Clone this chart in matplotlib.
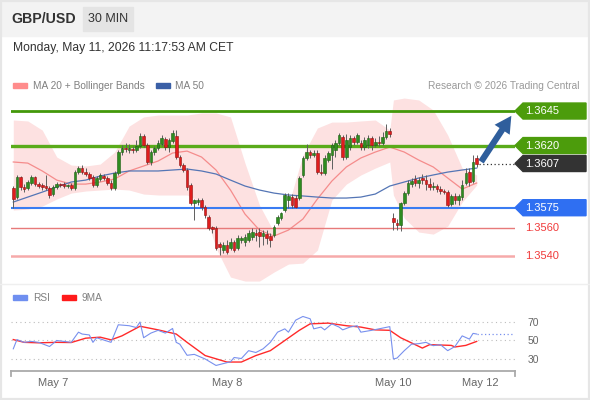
import numpy as np
import matplotlib.pyplot as plt
from matplotlib.patches import Rectangle, Polygon, FancyArrowPatch
from matplotlib.lines import Line2D
import matplotlib.transforms as mtransforms

plt.rcParams['font.family'] = ['Liberation Sans', 'DejaVu Sans']

W, H = 590, 400

# GBP/USD 30 min candles, May 7 -> May 11
c_open = [1.35892, 1.35827, 1.35972, 1.35900, 1.35892, 1.35929, 1.35972, 1.35921, 1.35914, 1.35907,
          1.35892, 1.35849, 1.35900, 1.35921, 1.35921, 1.35907, 1.35914, 1.35892, 1.36008, 1.36037,
          1.36008, 1.35994, 1.35972, 1.35914, 1.35958, 1.35979, 1.35965, 1.35929, 1.35892, 1.36001,
          1.36153, 1.36182, 1.36168, 1.36175, 1.36168, 1.36197, 1.36269, 1.36204, 1.36081, 1.36153,
          1.36182, 1.36211, 1.36247, 1.36189, 1.36233, 1.36269, 1.36117, 1.36059, 1.36023, 1.35914,
          1.35784, 1.35791, 1.35806, 1.35755, 1.35682, 1.35610, 1.35603, 1.35487, 1.35443, 1.35480,
          1.35458, 1.35501, 1.35458, 1.35516, 1.35501, 1.35516, 1.35538, 1.35567, 1.35574, 1.35545,
          1.35559, 1.35545, 1.35552, 1.35639, 1.35675, 1.35733, 1.35806, 1.35827, 1.35820, 1.35820,
          1.35987, 1.36110, 1.36153, 1.36131, 1.36146, 1.36008, 1.36001, 1.36095, 1.36131, 1.36168,
          1.36218, 1.36262, 1.36117, 1.36189, 1.36254, 1.36226, 1.36218, 1.36189, 1.36204, 1.36254,
          1.36204, 1.36226, 1.36218, 1.36262, 1.36305, 1.35675, 1.35639, 1.35625, 1.35784, 1.35856,
          1.35921, 1.35958, 1.35929, 1.35965, 1.35950, 1.35921, 1.35900, 1.35907, 1.35885, 1.35871,
          1.35863, 1.35777, 1.35835, 1.35806, 1.35827, 1.35929, 1.36008, 1.35943, 1.36110]
c_high = [1.35907, 1.35987, 1.35979, 1.35921, 1.35950, 1.35987, 1.35979, 1.35936, 1.35929, 1.35987,
          1.35907, 1.35914, 1.35936, 1.35929, 1.35936, 1.35921, 1.35929, 1.36023, 1.36052, 1.36059,
          1.36037, 1.36008, 1.35987, 1.35979, 1.36001, 1.35994, 1.35979, 1.35950, 1.36016, 1.36168,
          1.36204, 1.36218, 1.36211, 1.36197, 1.36240, 1.36291, 1.36283, 1.36218, 1.36168, 1.36197,
          1.36240, 1.36276, 1.36262, 1.36254, 1.36312, 1.36312, 1.36131, 1.36073, 1.36037, 1.35929,
          1.35813, 1.35820, 1.35820, 1.35769, 1.35697, 1.35617, 1.35617, 1.35501, 1.35501, 1.35516,
          1.35530, 1.35516, 1.35552, 1.35545, 1.35559, 1.35588, 1.35603, 1.35596, 1.35603, 1.35588,
          1.35588, 1.35567, 1.35625, 1.35697, 1.35719, 1.35856, 1.35856, 1.35849, 1.35842, 1.35979,
          1.36124, 1.36211, 1.36168, 1.36168, 1.36168, 1.36066, 1.36131, 1.36160, 1.36218, 1.36240,
          1.36291, 1.36276, 1.36283, 1.36276, 1.36269, 1.36291, 1.36240, 1.36262, 1.36276, 1.36269,
          1.36254, 1.36269, 1.36298, 1.36356, 1.36327, 1.35711, 1.35668, 1.35791, 1.35871, 1.35950,
          1.35965, 1.35987, 1.35972, 1.35994, 1.35987, 1.35965, 1.35936, 1.35921, 1.35907, 1.35885,
          1.35878, 1.35849, 1.35856, 1.35849, 1.35950, 1.36037, 1.36037, 1.36131, 1.36131]
c_low = [1.35748, 1.35813, 1.35878, 1.35863, 1.35878, 1.35914, 1.35907, 1.35892, 1.35878, 1.35878,
         1.35820, 1.35835, 1.35885, 1.35900, 1.35892, 1.35892, 1.35878, 1.35878, 1.35994, 1.35994,
         1.35979, 1.35950, 1.35900, 1.35900, 1.35943, 1.35950, 1.35914, 1.35878, 1.35878, 1.35987,
         1.36131, 1.36153, 1.36146, 1.36146, 1.36153, 1.36182, 1.36189, 1.36066, 1.36059, 1.36131,
         1.36168, 1.36197, 1.36168, 1.36153, 1.36218, 1.36102, 1.36045, 1.36008, 1.35878, 1.35769,
         1.35661, 1.35769, 1.35733, 1.35675, 1.35588, 1.35567, 1.35443, 1.35407, 1.35422, 1.35415,
         1.35443, 1.35429, 1.35443, 1.35494, 1.35472, 1.35501, 1.35516, 1.35509, 1.35465, 1.35480,
         1.35487, 1.35465, 1.35538, 1.35625, 1.35661, 1.35719, 1.35748, 1.35748, 1.35748, 1.35806,
         1.35972, 1.36095, 1.36110, 1.36117, 1.35994, 1.35987, 1.35987, 1.36081, 1.36030, 1.36117,
         1.36204, 1.36095, 1.36102, 1.36168, 1.36204, 1.36211, 1.36168, 1.36168, 1.36182, 1.36168,
         1.36189, 1.36197, 1.36204, 1.36247, 1.36262, 1.35588, 1.35588, 1.35581, 1.35769, 1.35842,
         1.35900, 1.35907, 1.35892, 1.35921, 1.35878, 1.35878, 1.35878, 1.35863, 1.35849, 1.35849,
         1.35755, 1.35762, 1.35777, 1.35769, 1.35806, 1.35914, 1.35907, 1.35929, 1.36045]
c_close = [1.35813, 1.35972, 1.35900, 1.35885, 1.35936, 1.35972, 1.35921, 1.35907, 1.35900, 1.35892,
           1.35842, 1.35900, 1.35921, 1.35914, 1.35907, 1.35914, 1.35892, 1.36008, 1.36037, 1.36008,
           1.35994, 1.35965, 1.35914, 1.35965, 1.35987, 1.35965, 1.35929, 1.35892, 1.36001, 1.36153,
           1.36182, 1.36175, 1.36182, 1.36168, 1.36197, 1.36269, 1.36204, 1.36081, 1.36153, 1.36182,
           1.36218, 1.36254, 1.36189, 1.36240, 1.36291, 1.36117, 1.36059, 1.36023, 1.35900, 1.35784,
           1.35806, 1.35806, 1.35755, 1.35697, 1.35603, 1.35596, 1.35458, 1.35465, 1.35480, 1.35429,
           1.35501, 1.35443, 1.35530, 1.35530, 1.35538, 1.35567, 1.35574, 1.35552, 1.35545, 1.35567,
           1.35530, 1.35516, 1.35610, 1.35682, 1.35711, 1.35842, 1.35835, 1.35769, 1.35755, 1.35965,
           1.36110, 1.36153, 1.36131, 1.36146, 1.36008, 1.36001, 1.36110, 1.36146, 1.36204, 1.36218,
           1.36276, 1.36117, 1.36240, 1.36254, 1.36226, 1.36276, 1.36189, 1.36240, 1.36254, 1.36204,
           1.36226, 1.36218, 1.36262, 1.36305, 1.36283, 1.35646, 1.35625, 1.35784, 1.35856, 1.35929,
           1.35943, 1.35929, 1.35950, 1.35950, 1.35921, 1.35900, 1.35907, 1.35885, 1.35871, 1.35863,
           1.35769, 1.35835, 1.35806, 1.35835, 1.35914, 1.36001, 1.35936, 1.36081, 1.36066]

# indicators read every 4 candles
ind_idx = list(range(0, 129, 4))
ma20 = [1.36081, 1.36073, 1.36016, 1.35950, 1.35921, 1.35921, 1.35936, 1.35958, 1.36016, 1.36052,
        1.36088, 1.36146, 1.36160, 1.36117, 1.36023, 1.35878, 1.35704, 1.35588, 1.35545, 1.35588,
        1.35668, 1.35813, 1.35943, 1.36045, 1.36110, 1.36153, 1.36189, 1.36153, 1.36095, 1.36045,
        1.35965, 1.35885, 1.35929]
ma50 = [1.35791, 1.35827, 1.35863, 1.35900, 1.35936, 1.35950, 1.35979, 1.36001, 1.36016, 1.36016,
        1.36016, 1.36023, 1.36030, 1.36016, 1.35994, 1.35950, 1.35907, 1.35878, 1.35856, 1.35842,
        1.35835, 1.35827, 1.35820, 1.35820, 1.35827, 1.35849, 1.35907, 1.35936, 1.35965, 1.35987,
        1.36008, 1.36023, 1.36037]
bb_idx = list(range(0, 105, 4)) + [105] + list(range(108, 129, 4))
bb_up = [1.36385, 1.36378, 1.36312, 1.36117, 1.36059, 1.36052, 1.36066, 1.36153, 1.36341, 1.36407,
         1.36421, 1.36421, 1.36421, 1.36436, 1.36436, 1.36407, 1.36073, 1.35769, 1.35574, 1.35769,
         1.36131, 1.36327, 1.36370, 1.36370, 1.36378, 1.36385, 1.36312, 1.36530, 1.36544, 1.36530,
         1.36457, 1.36276, 1.36037, 1.35987]
bb_lo = [1.35733, 1.35740, 1.35762, 1.35813, 1.35856, 1.35871, 1.35878, 1.35885, 1.35878, 1.35849,
         1.35842, 1.35842, 1.35842, 1.35791, 1.35458, 1.35248, 1.35219, 1.35219, 1.35284, 1.35342,
         1.35349, 1.35443, 1.35806, 1.35921, 1.35987, 1.36037, 1.36081, 1.35842, 1.35675, 1.35574,
         1.35559, 1.35617, 1.35791, 1.35914]

rsi_idx = [0, 1, 3, 5, 7, 10, 12, 16, 18, 19, 21, 22, 23, 25, 27, 29, 32, 34, 35, 36,
           38, 40, 42, 44, 45, 46, 48, 50, 53, 56, 58, 60, 61, 63, 65, 67, 69, 71, 73, 75,
           76, 78, 80, 82, 83, 85, 86, 88, 90, 91, 93, 95, 96, 99, 101, 104, 105, 106, 108, 110,
           112, 114, 116, 118, 120, 122, 124, 126, 127, 128]
rsi_val = [41, 51, 48, 49, 48, 43.5, 50, 48, 59, 57, 56, 48, 53, 50.5, 48, 67, 66, 64, 70, 53,
           58, 61, 58, 63, 48, 46, 34, 35, 30, 23, 25, 27, 31.6, 30.5, 39, 37, 41, 48, 59, 62.6,
           59, 72, 76, 73.5, 62.6, 64.5, 61.5, 68, 64.5, 61.5, 64.5, 66, 59, 61, 62.6, 65, 30, 31, 39, 46,
           46.6, 48, 44.4, 45.5, 39, 43.5, 55, 51.5, 57.7, 57]
ma9_idx = [0, 3, 7, 12, 16, 20, 24, 27, 30, 35, 40, 45, 48, 53, 59, 63, 67, 71, 75, 79,
           82, 87, 92, 96, 100, 104, 107, 113, 115, 121, 122, 125, 128]
ma9_val = [51, 48, 47.5, 48, 47.8, 52.5, 53.6, 50.7, 55, 65.4, 61.5, 57, 48, 33.7, 26.7, 26.7, 33.7, 39, 50, 61,
           68, 68.8, 66, 64.5, 61.5, 61, 53, 41.8, 45.5, 44.7, 43, 44.7, 49]

day_pos = [11, 59, 105, 129]
day_lab = ['May 7', 'May 8', 'May 10', 'May 12']

# support / resistance
lines = [(1.3645, '#43980a', 2.0), (1.3620, '#5aab1a', 2.4), (1.3575, '#3a7cf2', 1.5),
         (1.3560, '#e77a7a', 1.0), (1.3540, '#f6aaaa', 1.8)]
tags = [(1.3645, '1.3645', '#4c9c0c'), (1.3620, '1.3620', '#4c9c0c'),
        (1.3607, '1.3607', '#333333'), (1.3575, '1.3575', '#2f6ff2')]
red_labels = [1.3560, 1.3540]
target = 1.3645


def fbox(x0, y0, x1, y1):
    return [x0 / W, 1 - y1 / H, (x1 - x0) / W, (y1 - y0) / H]


fig = plt.figure(figsize=(W / 100, H / 100), dpi=100)
fig.patch.set_facecolor('white')

# header
fig.add_artist(Rectangle((0, 1 - 36 / H), 1, 36 / H, transform=fig.transFigure, color='#f3f3f3', zorder=0))
fig.add_artist(Rectangle((83 / W, 1 - 31 / H), 50 / W, 24 / H, transform=fig.transFigure, color='#e4e4e4', zorder=1))
fig.text(11 / W, 1 - 19 / H, 'GBP/USD', fontsize=10.2, fontweight='bold', color='#333333', va='center')
fig.text(108 / W, 1 - 19 / H, '30 MIN', fontsize=9, color='#333333', va='center', ha='center')
fig.text(13 / W, 1 - 48 / H, 'Monday, May 11, 2026 11:17:53 AM CET', fontsize=8.7, color='#333333', va='center')

# legends
fig.add_artist(Rectangle((13 / W, 1 - 88 / H), 14 / W, 5 / H, transform=fig.transFigure, color='#ff8c8c'))
fig.text(33 / W, 1 - 86 / H, 'MA 20 + Bollinger Bands', fontsize=7.3, color='#808080', va='center')
fig.add_artist(Rectangle((156 / W, 1 - 88 / H), 14 / W, 5 / H, transform=fig.transFigure, color='#3a5fa6'))
fig.text(175 / W, 1 - 86 / H, 'MA 50', fontsize=7.3, color='#808080', va='center')
fig.text(580 / W, 1 - 86 / H, 'Research \u00a9 2026 Trading Central', fontsize=7.3, color='#999999',
         va='center', ha='right')

fig.add_artist(Rectangle((13 / W, 1 - 300 / H), 14 / W, 5 / H, transform=fig.transFigure, color='#6f8ff0'))
fig.text(33 / W, 1 - 298 / H, 'RSI', fontsize=7.3, color='#808080', va='center')
fig.add_artist(Rectangle((62 / W, 1 - 300 / H), 14 / W, 5 / H, transform=fig.transFigure, color='#ff1a1a'))
fig.text(82 / W, 1 - 298 / H, '9MA', fontsize=7.3, color='#808080', va='center')

fig.add_artist(Line2D([0, 1], [1 - 284 / H] * 2, transform=fig.transFigure, color='#efefef', lw=1))
fig.add_artist(Rectangle((0, 0), 1, 1, transform=fig.transFigure, fill=False, edgecolor='#e6e6e6', lw=3))

# price panel
ax = fig.add_axes(fbox(11, 95, 515, 283))
ax.set_xlim(-0.635, 138.59)
ax.set_ylim(1.35205, 1.36566)
ax.axis('off')

o = np.array(c_open); hi = np.array(c_high); lo = np.array(c_low); cl = np.array(c_close)
x = np.arange(len(cl))
up = cl >= o

ax.fill_between(bb_idx, bb_lo, bb_up, color='#fde1e1', lw=0, zorder=1)
ax.plot(ind_idx, ma20, color='#f58c8c', lw=0.9, zorder=2)
ax.plot(ind_idx, ma50, color='#5475b5', lw=0.9, zorder=2)

for p, col, lw in lines:
    ax.axhline(p, color=col, lw=lw, zorder=2.5)

ax.vlines(x, lo, hi, color='#5e5e5e', lw=0.7, zorder=3)
ax.bar(x[up], (cl - o)[up], bottom=o[up], width=0.72, color='#2f8c20', edgecolor='#1e5f13', lw=0.4, zorder=4)
ax.bar(x[~up], (o - cl)[~up], bottom=cl[~up], width=0.72, color='#e01d1d', edgecolor='#8e1111', lw=0.4, zorder=4)

xr = ax.get_xlim()[1]
ax.plot([x[-1] + 0.6, xr], [cl[-1], cl[-1]], color='#333333', lw=0.9, ls=(0, (1, 2)), zorder=3)

trans = mtransforms.blended_transform_factory(ax.transAxes, ax.transData)
yr = ax.get_ylim()
hh = 8 * (yr[1] - yr[0]) / 188
for p, lab, col in tags:
    ax.add_patch(Polygon([(1.0, p), (1.0159, p + hh), (1.1409, p + hh), (1.1409, p - hh), (1.0159, p - hh)],
                         closed=True, transform=trans, color=col, clip_on=False, zorder=5))
    ax.text(1.0198, p, lab, transform=trans, color='white', fontsize=8, va='center', ha='left', zorder=6)
for p in red_labels:
    ax.text(1.0198, p, '%.4f' % p, transform=trans, color='#f03a3a', fontsize=8, va='center', ha='left')

arr = FancyArrowPatch((x[-1] + 0.8, cl[-1]), (138.0, target - 0.00018),
                      arrowstyle='simple,head_width=1.3,head_length=1.2,tail_width=0.45',
                      mutation_scale=10, color='#2f5e9c', lw=0, clip_on=False, zorder=6)
ax.add_patch(arr)

# RSI panel
ax2 = fig.add_axes(fbox(11, 305, 515, 371))
ax2.set_xlim(-0.635, 138.59)
ax2.set_ylim(17.0, 88.4)
for s in ['top', 'left', 'right']:
    ax2.spines[s].set_visible(False)
ax2.spines['bottom'].set_color('#aaaaaa')
ax2.spines['bottom'].set_linewidth(1.3)
ax2.set_facecolor('none')

for v in (30, 50, 70):
    ax2.axhline(v, color='#bdbdbd', lw=0.8, ls=(0, (1, 3)), zorder=1)
ax2.plot(rsi_idx, rsi_val, color='#7890ee', lw=0.8, zorder=3)
ax2.plot(ma9_idx, ma9_val, color='#ff2a2a', lw=1.0, zorder=2)
ax2.plot([rsi_idx[-1], xr], [rsi_val[-1], rsi_val[-1]], color='#7890ee', lw=0.9, ls=(0, (1, 2)), zorder=3)

ax2.set_xticks(day_pos)
ax2.set_xticklabels(day_lab)
ax2.yaxis.tick_right()
ax2.set_yticks([30, 50, 70])
ax2.tick_params(axis='x', length=0, pad=5, labelsize=8, labelcolor='#666666')
ax2.tick_params(axis='y', length=0, pad=9, labelsize=7.5, labelcolor='#666666')
for xe in (0, 1):
    ax2.add_line(Line2D([xe, xe], [0, -0.08], transform=ax2.transAxes, color='#aaaaaa', lw=1.3, clip_on=False))

fig.savefig('out.png', dpi=100)
